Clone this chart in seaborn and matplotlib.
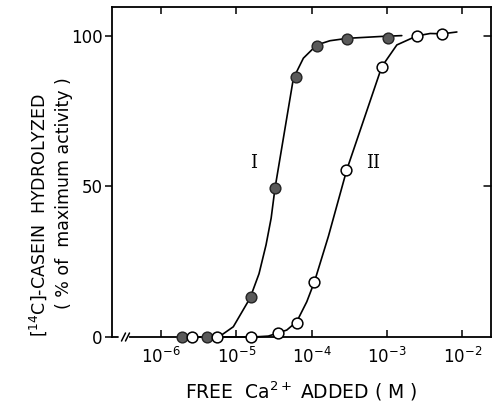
import numpy as np
import pandas as pd
import seaborn as sns
import matplotlib.pyplot as plt

# ---- data ----
# Series I (filled circles)
x_I = [1.88e-6, 4.1e-6, 1.57e-5, 3.3e-5, 6.2e-5, 1.17e-4, 2.9e-4, 1.04e-3]
y_I = [0.0, 0.0, 13.4, 49.4, 86.3, 96.8, 99.0, 99.2]
# Series II (open circles)
x_II = [2.56e-6, 5.6e-6, 1.57e-5, 3.6e-5, 6.3e-5, 1.09e-4, 2.84e-4, 8.5e-4, 2.5e-3, 5.4e-3]
y_II = [0.0, 0.0, 0.0, 1.4, 4.8, 18.4, 55.5, 89.8, 100.0, 100.7]

# hand-drawn curves
curve_I_x = [1.88e-6, 4.08e-6, 6.08e-6, 9.12e-6, 1.52e-5, 2.0e-5, 2.48e-5, 2.9e-5, 3.26e-5,
             5.72e-5, 7.76e-5, 1.17e-4, 1.75e-4, 2.98e-4, 8.1e-4, 1.57e-3]
curve_I_y = [0.0, 0.0, 0.3, 3.4, 12.9, 21.0, 30.6, 39.5, 49.4,
             85.9, 92.6, 97.0, 98.4, 99.2, 99.8, 100.1]
curve_II_x = [2.56e-6, 1.68e-5, 2.66e-5, 3.61e-5, 4.67e-5, 6.34e-5, 8.61e-5, 1.09e-4,
              1.67e-4, 2.92e-4, 8.53e-4, 1.35e-3, 2.49e-3, 3.74e-3, 5.44e-3, 8.45e-3]
curve_II_y = [0.0, 0.0, 0.3, 1.4, 2.3, 5.1, 11.7, 18.4,
              33.5, 55.5, 89.8, 97.0, 100.0, 100.8, 100.7, 101.3]

x_ticks = [1e-6, 1e-5, 1e-4, 1e-3, 1e-2]
x_ticklabels = [r'$10^{-6}$', r'$10^{-5}$', r'$10^{-4}$', r'$10^{-3}$', r'$10^{-2}$']
y_ticks = [0, 50, 100]
y_ticklabels = ['0', '50', '100']

# ---- plotting ----
sns.set_theme(style="ticks")
plt.rcParams['font.family'] = ['DejaVu Sans']
plt.rcParams['text.color'] = 'black'
plt.rcParams['axes.labelcolor'] = 'black'
plt.rcParams['xtick.color'] = 'black'
plt.rcParams['ytick.color'] = 'black'

fig = plt.figure(figsize=(4.93, 4.07), dpi=100)
ax = fig.add_axes([112 / 493, 70 / 407, 379 / 493, 330 / 407])

ax.set_xscale('log')
ax.set_xlim(10 ** -6.65, 10 ** -1.62)
ax.set_ylim(0, 109.6)

cI = pd.DataFrame({'x': curve_I_x, 'y': curve_I_y})
cII = pd.DataFrame({'x': curve_II_x, 'y': curve_II_y})
sns.lineplot(data=cI, x='x', y='y', ax=ax, color='black', lw=1.2, sort=False,
             estimator=None, clip_on=False)
sns.lineplot(data=cII, x='x', y='y', ax=ax, color='black', lw=1.2, sort=False,
             estimator=None, clip_on=False)

dI = pd.DataFrame({'x': x_I, 'y': y_I})
dII = pd.DataFrame({'x': x_II, 'y': y_II})
sns.scatterplot(data=dI, x='x', y='y', ax=ax, s=60, color='#5a5a5a',
                edgecolor='#222222', linewidth=1.0, zorder=5, clip_on=False)
sns.scatterplot(data=dII, x='x', y='y', ax=ax, s=60, color='white',
                edgecolor='black', linewidth=1.1, zorder=5, clip_on=False)

ax.text(1.67e-5, 57.8, 'I', family='DejaVu Serif', fontsize=13, ha='center', va='center')
ax.text(6.5e-4, 57.8, 'II', family='DejaVu Serif', fontsize=13, ha='center', va='center')

# axes styling
ax.set_xticks(x_ticks)
ax.set_xticklabels(x_ticklabels, fontsize=12)
ax.xaxis.set_minor_locator(plt.NullLocator())
ax.set_yticks(y_ticks)
ax.set_yticklabels(y_ticklabels, fontsize=12)
ax.tick_params(axis='x', direction='in', length=5, width=1.1, pad=7,
               top=True, bottom=True)
ax.tick_params(axis='y', direction='out', length=5, width=1.1, pad=2,
               left=True, right=False)
for y in [50, 100]:
    ax.plot([1, 1 - 7 / 379], [y / 109.6, y / 109.6], transform=ax.transAxes,
            color='black', lw=1.1, clip_on=False)

for s in ax.spines.values():
    s.set_linewidth(1.3)
    s.set_color('black')
ax.spines['bottom'].set_bounds(10 ** -6.41, 10 ** -1.62)
# stub and axis break
ax.plot([0, 6 / 379], [0, 0], transform=ax.transAxes, color='black', lw=1.3, clip_on=False)
for x0 in [9.5, 13.5]:
    ax.plot([x0 / 379, (x0 + 4) / 379], [-4 / 330, 4 / 330], transform=ax.transAxes,
            color='black', lw=1.1, clip_on=False)

ax.set_xlabel(r'FREE  Ca$^{2+}$ ADDED ( M )', fontsize=13.5, labelpad=9)
ax.set_ylabel('')
fig.text(38 / 493, 1 - 215 / 407, r'[$^{14}$C]-CASEIN  HYDROLYZED', rotation=90,
         fontsize=12.5, ha='center', va='center')
fig.text(64 / 493, 1 - 193 / 407, '( % of  maximum activity )', rotation=90,
         fontsize=12.5, ha='center', va='center')

fig.savefig('out.png', dpi=100)
